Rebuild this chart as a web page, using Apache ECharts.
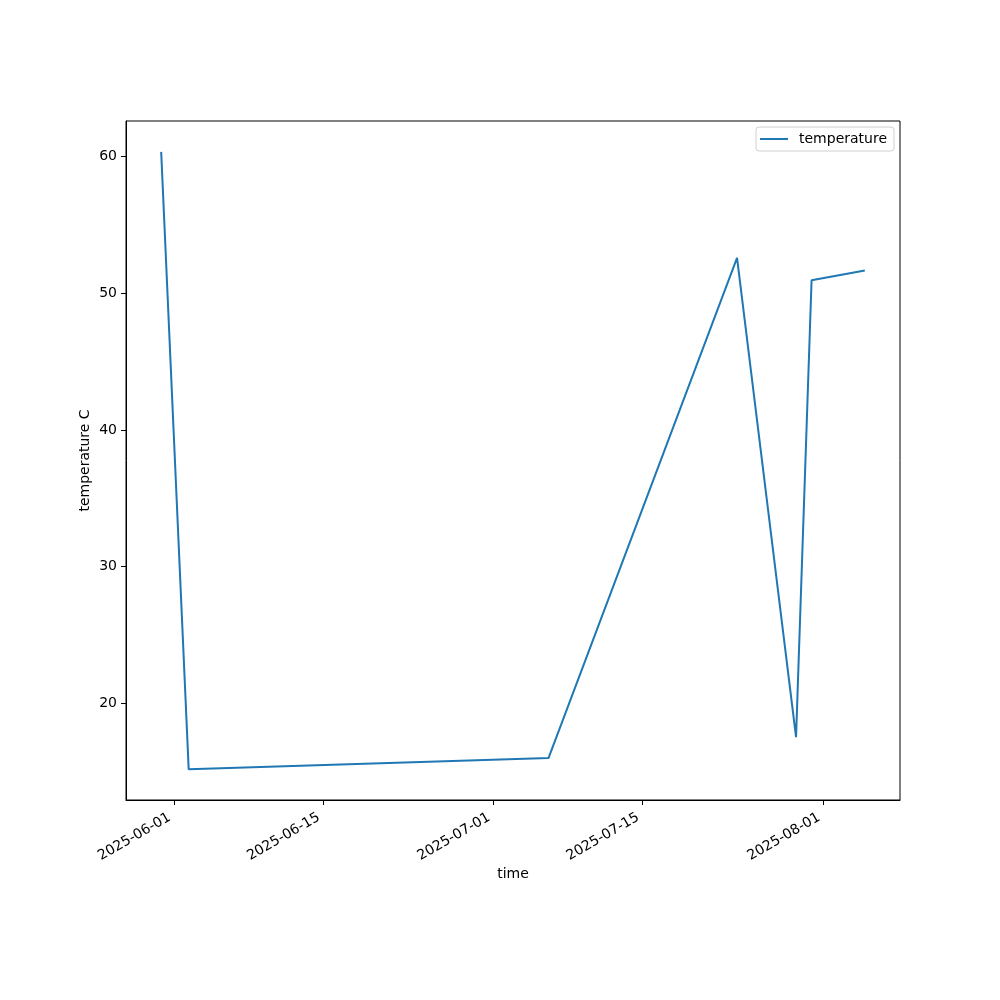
<!DOCTYPE html>
<html>
<head>
<meta charset="utf-8">
<script src="https://cdn.jsdelivr.net/npm/echarts@6/dist/echarts.min.js"></script>
<style>html,body{margin:0;padding:0;background:#fff;}#c{width:1000px;height:1000px;}</style>
</head>
<body>
<div id="c"></div>
<script>
// Data (UTC times)
var times = ['2025-05-30T19:00:00Z','2025-06-02T09:00:00Z','2025-07-06T04:00:00Z','2025-07-23T21:00:00Z','2025-07-29T10:00:00Z','2025-07-30T21:00:00Z','2025-08-04T21:00:00Z'];
var temperature = [60.34, 15.19, 16.0, 52.59, 17.53, 50.95, 51.66];
var xTickLabels = ['2025-06-01','2025-06-15','2025-07-01','2025-07-15','2025-08-01'];
var yTicks = [20, 30, 40, 50, 60];

var ts = times.map(function(t){ return Date.parse(t); });
var xTicks = xTickLabels.map(function(d){ return Date.parse(d + 'T00:00:00Z'); });
var xmin0 = Math.min.apply(null, ts), xmax0 = Math.max.apply(null, ts);
var xpad = (xmax0 - xmin0) * 0.05;
var ymin0 = Math.min.apply(null, temperature), ymax0 = Math.max.apply(null, temperature);
var ypad = (ymax0 - ymin0) * 0.05;

function fmtDate(v){
  var d = new Date(v);
  var m = d.getUTCMonth() + 1, day = d.getUTCDate();
  return d.getUTCFullYear() + '-' + (m < 10 ? '0' : '') + m + '-' + (day < 10 ? '0' : '') + day;
}

var font = 'DejaVu Sans';
var fs = 14;
var chart = echarts.init(document.getElementById('c'), null, {renderer: 'canvas'});
chart.setOption({
  animation: false,
  backgroundColor: '#fff',
  textStyle: {fontFamily: font},
  grid: {left: 126, right: 100, top: 121, bottom: 200, show: true, borderColor: '#000', borderWidth: 1, backgroundColor: 'transparent'},
  legend: {
    show: true, left: 756, top: 127, orient: 'vertical',
    data: [{name: 'temperature', icon: 'rect'}],
    itemWidth: 28, itemHeight: 2, itemGap: 8,
    padding: [5, 7, 5, 4],
    borderColor: '#d0d0d0', borderWidth: 1, borderRadius: 3,
    textStyle: {fontFamily: font, fontSize: fs, color: '#000', padding: [0, 0, 0, 6]}
  },
  xAxis: {
    type: 'value',
    min: xmin0 - xpad, max: xmax0 + xpad,
    name: 'time', nameLocation: 'middle', nameGap: 67, nameMoveOverlap: false,
    nameTextStyle: {fontFamily: font, fontSize: fs, color: '#000'},
    axisLine: {show: true, lineStyle: {color: '#000', width: 1}},
    axisTick: {show: true, length: 5, lineStyle: {color: '#000'}, customValues: xTicks},
    axisLabel: {show: true, rotate: 30, margin: 14, padding: [0, 5, 0, 0], fontFamily: font, fontSize: fs, color: '#000', customValues: xTicks, formatter: fmtDate},
    splitLine: {show: false}
  },
  yAxis: {
    type: 'value',
    min: ymin0 - ypad, max: ymax0 + ypad,
    name: 'temperature C', nameLocation: 'middle', nameGap: 34, nameRotate: 90, nameMoveOverlap: false,
    nameTextStyle: {fontFamily: font, fontSize: fs, color: '#000'},
    axisLine: {show: true, lineStyle: {color: '#000', width: 1}},
    axisTick: {show: true, length: 5, lineStyle: {color: '#000'}, customValues: yTicks},
    axisLabel: {show: true, margin: 9, fontFamily: font, fontSize: fs, color: '#000', customValues: yTicks},
    splitLine: {show: false}
  },
  series: [{
    name: 'temperature',
    type: 'line',
    data: ts.map(function(t, i){ return [t, temperature[i]]; }),
    showSymbol: false, symbol: 'none',
    lineStyle: {color: '#1f77b4', width: 2},
    itemStyle: {color: '#1f77b4'}
  }]
});
</script>
</body>
</html>
